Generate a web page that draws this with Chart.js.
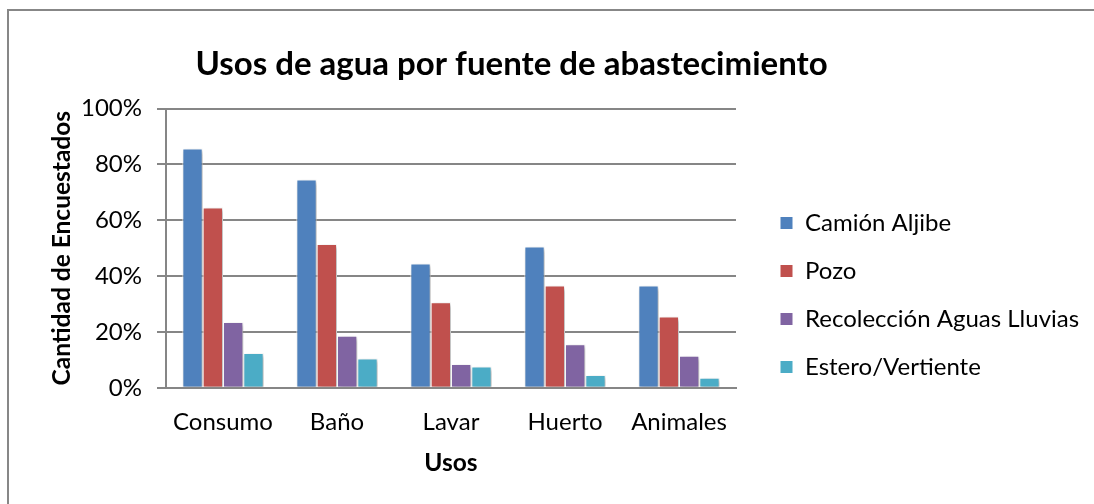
<!DOCTYPE html>
<html lang="es">
<head>
<meta charset="UTF-8">
<title>Usos de agua por fuente de abastecimiento</title>
<script src="https://cdn.jsdelivr.net/npm/chart.js@4.4.0/dist/chart.umd.min.js"></script>
<style>
  html, body { margin: 0; padding: 0; background: #fff; overflow: hidden; }
  #frame { position: absolute; left: 7px; top: 9px; border-left: 2px solid #878787; border-top: 2px solid #878787; }
  canvas { display: block; }
</style>
</head>
<body>
<div id="frame"><canvas id="chart" width="1150" height="568"></canvas></div>
<script>
// valores (%)
const usos = ['Consumo', 'Baño', 'Lavar', 'Huerto', 'Animales'];
const fuentes = ['Camión Aljibe', 'Pozo', 'Recolección Aguas Lluvias', 'Estero/Vertiente'];
const camionAljibe = [85.7, 74.6, 44.5, 50.6, 36.6];
const pozo = [64.6, 51.5, 30.6, 36.6, 25.5];
const recoleccion = [23.6, 18.6, 8.5, 15.6, 11.5];
const estero = [12.5, 10.5, 7.6, 4.6, 3.6];
const yTicks = [0, 20, 40, 60, 80, 100];

const FONT = 'Lato';
const GRID = '#868686';
const LEG_SIZE = 24, LEG_BOX = 13, LEG_PAD = 24;

// la leyenda debe empezar en x=747 del canvas: calculamos el margen derecho
const meas = document.createElement('canvas').getContext('2d');
meas.font = LEG_SIZE + 'px ' + FONT;
const widest = Math.max(...fuentes.map(t => meas.measureText(t).width));
const legendW = LEG_PAD + LEG_BOX + LEG_SIZE / 2 + widest + 10;
const padRight = Math.max(0, 1150 - 747 - legendW);

// sombra suave de las barras, como en Excel
const barShadow = {
  id: 'barShadow',
  beforeDatasetsDraw(chart) {
    const c = chart.ctx;
    c.save();
    c.shadowColor = 'rgba(0,0,0,0.3)';
    c.shadowBlur = 4;
    c.shadowOffsetX = 2;
    c.shadowOffsetY = 2;
  },
  afterDatasetsDraw(chart) {
    chart.ctx.restore();
  }
};

// el titulo va centrado sobre el area sin la leyenda completa
const titleShift = {
  id: 'titleShift',
  afterLayout(chart) {
    const t = chart.titleBlock;
    t.right = t.left + 1005;
  }
};

const ctx = document.getElementById('chart').getContext('2d');
new Chart(ctx, {
  type: 'bar',
  data: {
    labels: usos,
    datasets: [
      { label: fuentes[0], data: camionAljibe, backgroundColor: '#4F81BD' },
      { label: fuentes[1], data: pozo, backgroundColor: '#C0504D' },
      { label: fuentes[2], data: recoleccion, backgroundColor: '#8064A2' },
      { label: fuentes[3], data: estero, backgroundColor: '#4BACC6' }
    ]
  },
  options: {
    responsive: false,
    animation: false,
    layout: { padding: { left: 0, right: padRight, top: 0, bottom: 0 } },
    datasets: {
      bar: { categoryPercentage: 0.713, barPercentage: 1, borderColor: '#fff', borderWidth: 1 }
    },
    plugins: {
      title: {
        display: true,
        text: 'Usos de agua por fuente de abastecimiento',
        color: '#000',
        font: { family: FONT, size: 33, weight: 'bold' },
        padding: { top: 34, bottom: 24 }
      },
      legend: {
        position: 'right',
        maxWidth: 600,
        labels: {
          color: '#000',
          font: { family: FONT, size: LEG_SIZE },
          boxWidth: LEG_BOX,
          boxHeight: LEG_BOX,
          padding: LEG_PAD
        }
      },
      tooltip: { enabled: false }
    },
    scales: {
      x: {
        grid: { display: false },
        border: { display: true, color: GRID, width: 2 },
        ticks: { color: '#000', font: { family: FONT, size: 24 }, padding: 12 },
        title: {
          display: true, text: 'Usos', color: '#000',
          font: { family: FONT, size: 24.5, weight: 'bold' },
          padding: { top: 0, bottom: 101 }
        }
      },
      y: {
        min: 0,
        max: 100,
        afterBuildTicks: s => { s.ticks = yTicks.map(v => ({ value: v })); },
        afterFit: s => { s.width = 157; },
        grid: { color: GRID, lineWidth: 2, tickLength: 9 },
        border: { color: GRID, width: 2 },
        ticks: { color: '#000', font: { family: FONT, size: 24 }, padding: 15, callback: v => v + '%' },
        title: {
          display: true, text: 'Cantidad de Encuestados', color: '#000',
          font: { family: FONT, size: 24.5, weight: 'bold' },
          padding: { top: 38, bottom: 0 }
        }
      },
      gap: {
        type: 'linear',
        position: 'right',
        grid: { display: false },
        border: { display: false },
        ticks: { display: false },
        afterFit: s => { s.width = 20; }
      }
    }
  },
  plugins: [barShadow, titleShift]
});
</script>
</body>
</html>
